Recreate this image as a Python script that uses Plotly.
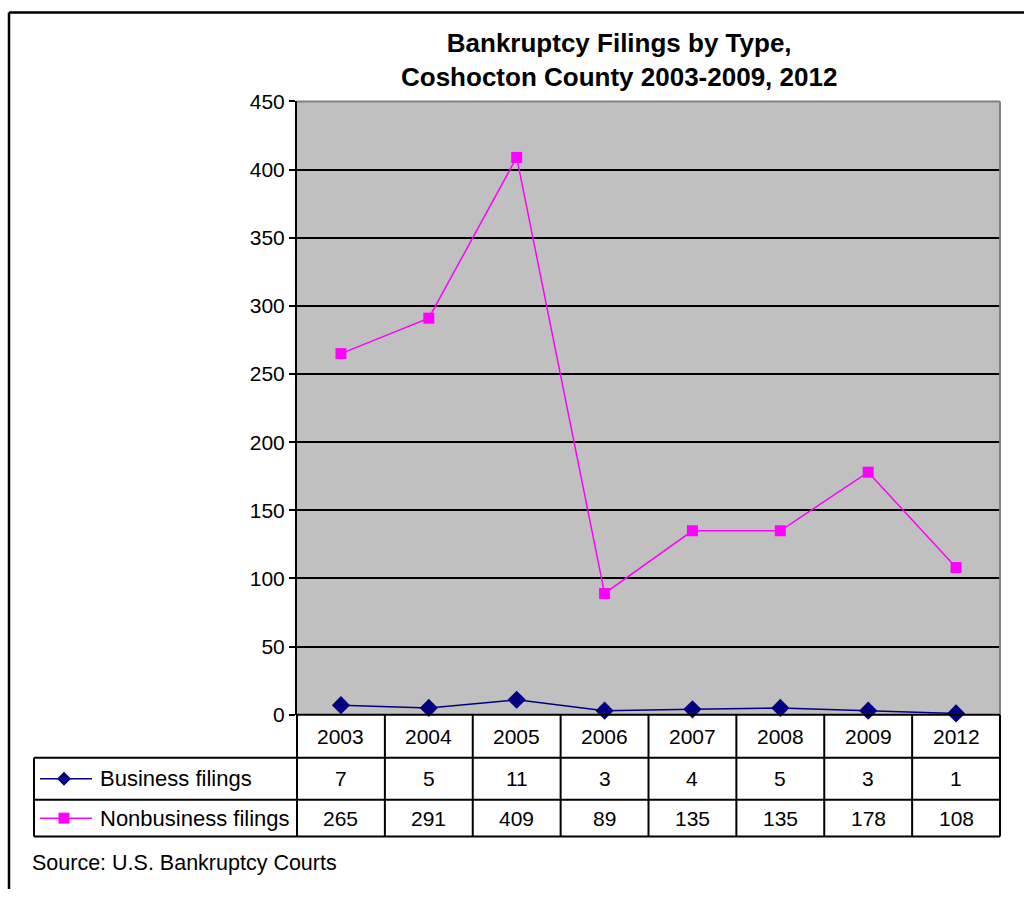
import plotly.graph_objects as go

years = ["2003", "2004", "2005", "2006", "2007", "2008", "2009", "2012"]
business = [7, 5, 11, 3, 4, 5, 3, 1]
nonbusiness = [265, 291, 409, 89, 135, 135, 178, 108]
series_names = ["Business filings", "Nonbusiness filings"]
y_ticks = [0, 50, 100, 150, 200, 250, 300, 350, 400, 450]
title_text = "<b>Bankruptcy Filings by Type,<br>Coshocton County 2003-2009, 2012</b>"
source_text = "Source: U.S. Bankruptcy Courts"

W, H = 1024, 900
PL, PR, PT, PB = 297, 1000, 100, 714   # plot area in target pixels
ROWS = [714, 757, 799, 836]
TABLE_LEFT = 34
FONT = "Liberation Sans, Arial, sans-serif"
TFS = 21

# observed vertical mapping of the page in the photograph
Y_OFF, Y_SCALE = 10.4, 0.9756

def px(x):
    return x / W

def py(y):
    yd = (y - Y_OFF) / Y_SCALE
    yd = min(max(yd, 0.5), H)
    return 1 - yd / H

navy = "#000080"
magenta = "#FF00FF"

fig = go.Figure()
fig.add_trace(go.Scatter(x=years, y=business, mode="lines+markers", name=series_names[0],
                         line=dict(color=navy, width=1.5),
                         marker=dict(symbol="diamond", size=14, color=navy), cliponaxis=False))
fig.add_trace(go.Scatter(x=years, y=nonbusiness, mode="lines+markers", name=series_names[1],
                         line=dict(color=magenta, width=1.5),
                         marker=dict(symbol="square", size=11, color=magenta), cliponaxis=False))

fig.update_layout(
    width=W, height=H, margin=dict(l=0, r=0, t=0, b=0),
    paper_bgcolor="white", plot_bgcolor="#C0C0C0",
    showlegend=False,
    font=dict(family=FONT, size=TFS, color="black"),
    xaxis=dict(domain=[px(PL), px(PR)], type="category", range=[-0.5, 7.5],
               showticklabels=False, showgrid=False, zeroline=False, ticks=""),
    yaxis=dict(domain=[py(PB), py(PT)], range=[0, 450], tickvals=y_ticks,
               showgrid=True, gridcolor="black", gridwidth=1.5, zeroline=False,
               ticks="outside", ticklen=6, tickcolor="black", tickwidth=1.5,
               showline=True, linecolor="black", linewidth=2,
               tickfont=dict(size=TFS, family=FONT)),
)

shapes = []
# top / right border of plot area
shapes.append(dict(type="line", xref="paper", yref="paper", x0=px(PL), x1=px(PR), y0=py(PT), y1=py(PT),
                   line=dict(color="#808080", width=2)))
shapes.append(dict(type="line", xref="paper", yref="paper", x0=px(PR), x1=px(PR), y0=py(PT), y1=py(PB),
                   line=dict(color="#808080", width=2)))
# table horizontal lines
for i, yy in enumerate(ROWS):
    x0 = PL if i == 0 else TABLE_LEFT
    shapes.append(dict(type="line", xref="paper", yref="paper", x0=px(x0), x1=px(PR), y0=py(yy), y1=py(yy),
                       line=dict(color="black", width=2)))
# table vertical lines
ncol = len(years)
colw = (PR - PL) / ncol
for j in range(ncol + 1):
    xx = PL + j * colw
    shapes.append(dict(type="line", xref="paper", yref="paper", x0=px(xx), x1=px(xx), y0=py(ROWS[0]), y1=py(ROWS[-1]),
                       line=dict(color="black", width=2)))
shapes.append(dict(type="line", xref="paper", yref="paper", x0=px(TABLE_LEFT), x1=px(TABLE_LEFT), y0=py(ROWS[1]), y1=py(ROWS[-1]),
                   line=dict(color="black", width=2)))
# chart outer border (top, left)
shapes.append(dict(type="line", xref="paper", yref="paper", x0=px(9), x1=1, y0=py(5), y1=py(5),
                   line=dict(color="black", width=2.5)))
shapes.append(dict(type="line", xref="paper", yref="paper", x0=px(9), x1=px(9), y0=py(5), y1=0,
                   line=dict(color="black", width=2.5)))
# legend keys in table
for r, col in enumerate([navy, magenta]):
    yc = (ROWS[r + 1] + ROWS[r + 2]) / 2
    shapes.append(dict(type="line", xref="paper", yref="paper", x0=px(40), x1=px(92), y0=py(yc), y1=py(yc),
                       line=dict(color=col, width=1.5)))
# legend key markers
yc1 = (ROWS[1] + ROWS[2]) / 2
d = 7
shapes.append(dict(type="path", xref="paper", yref="paper",
                   path=f"M {px(64 - d)} {py(yc1)} L {px(64)} {py(yc1 - d)} L {px(64 + d)} {py(yc1)} L {px(64)} {py(yc1 + d)} Z",
                   fillcolor=navy, line=dict(color=navy, width=0)))
yc2 = (ROWS[2] + ROWS[3]) / 2
s = 5.5
shapes.append(dict(type="rect", xref="paper", yref="paper", x0=px(64 - s), x1=px(64 + s), y0=py(yc2 - s), y1=py(yc2 + s),
                   fillcolor=magenta, line=dict(color=magenta, width=0)))
fig.update_layout(shapes=shapes)

ann = []
ann.append(dict(text=title_text, xref="paper", yref="paper", x=px(619), y=py(58.5), showarrow=False,
                font=dict(size=26, family=FONT), xanchor="center", yanchor="middle"))
for j, yr in enumerate(years):
    xc = PL + (j + 0.5) * colw
    ann.append(dict(text=yr, xref="paper", yref="paper", x=px(xc), y=py((ROWS[0] + ROWS[1]) / 2),
                    showarrow=False, font=dict(size=TFS), xanchor="center", yanchor="middle"))
    ann.append(dict(text=str(business[j]), xref="paper", yref="paper", x=px(xc), y=py((ROWS[1] + ROWS[2]) / 2),
                    showarrow=False, font=dict(size=TFS), xanchor="center", yanchor="middle"))
    ann.append(dict(text=str(nonbusiness[j]), xref="paper", yref="paper", x=px(xc), y=py((ROWS[2] + ROWS[3]) / 2),
                    showarrow=False, font=dict(size=TFS), xanchor="center", yanchor="middle"))
for r, nm in enumerate(series_names):
    ann.append(dict(text=nm, xref="paper", yref="paper", x=px(98), y=py((ROWS[r + 1] + ROWS[r + 2]) / 2),
                    showarrow=False, font=dict(size=22), xanchor="left", yanchor="middle"))
ann.append(dict(text=source_text, xref="paper", yref="paper", x=px(30), y=py(862), showarrow=False,
                font=dict(size=21.5), xanchor="left", yanchor="middle"))
fig.update_layout(annotations=ann)

post = ("document.documentElement.style.margin='0';document.body.style.margin='0';"
        "document.body.style.overflow='hidden';"
        "var gd=document.getElementById('{plot_id}');gd.style.position='fixed';"
        "gd.style.top='0px';gd.style.left='0px';")
fig.write_html("out.html", config={"displayModeBar": False}, post_script=post)
